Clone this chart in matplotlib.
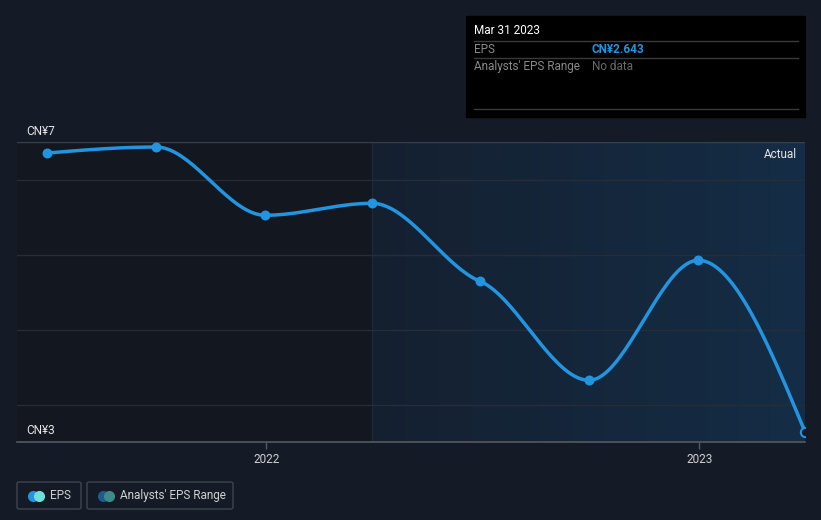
import numpy as np
import matplotlib
matplotlib.use("Agg")
import matplotlib.pyplot as plt
import matplotlib.dates as mdates
from matplotlib.patches import Rectangle, FancyBboxPatch
from matplotlib.colors import LinearSegmentedColormap
import datetime as dt

plt.rcParams['font.family'] = ['Roboto', 'DejaVu Sans']

# data
dates = ["2021-06-30", "2021-09-30", "2021-12-31", "2022-03-31",
         "2022-06-30", "2022-09-30", "2022-12-31", "2023-03-31"]
eps = [6.36, 6.44, 5.53, 5.69, 4.65, 3.33, 4.93, 2.643]
forecast_start = "2022-03-31"
y_ticks = [3, 4, 5, 6]
x_tick_dates = ["2022-01-01", "2023-01-01"]
x_tick_labels = ["2022", "2023"]

BG = "#151b26"
BLUE = "#2394df"


def monotone_curve(x, y, n=40):
    """monotone cubic (like d3 curveMonotoneX)"""
    x = np.asarray(x, float)
    y = np.asarray(y, float)
    h = np.diff(x)
    s = np.diff(y) / h
    m = np.zeros_like(y)
    for i in range(1, len(y) - 1):
        if s[i - 1] * s[i] <= 0:
            m[i] = 0
        else:
            p = (s[i - 1] * h[i] + s[i] * h[i - 1]) / (h[i - 1] + h[i])
            m[i] = np.sign(s[i - 1]) * min(abs(s[i - 1]), abs(s[i]), 0.5 * abs(p))
    m[0] = (3 * s[0] - m[1]) / 2
    m[-1] = (3 * s[-1] - m[-2]) / 2
    xs, ys = [], []
    for i in range(len(x) - 1):
        t = np.linspace(0, 1, n)
        h00 = 2 * t**3 - 3 * t**2 + 1
        h10 = t**3 - 2 * t**2 + t
        h01 = -2 * t**3 + 3 * t**2
        h11 = t**3 - t**2
        xs.append(x[i] + t * h[i])
        ys.append(h00 * y[i] + h10 * h[i] * m[i] + h01 * y[i + 1] + h11 * h[i] * m[i + 1])
    return np.concatenate(xs), np.concatenate(ys)


xd = mdates.date2num([dt.date.fromisoformat(d) for d in dates])
xf = mdates.date2num(dt.date.fromisoformat(forecast_start))
x_ticks = mdates.date2num([dt.date.fromisoformat(d) for d in x_tick_dates])

fig = plt.figure(figsize=(8.21, 5.2), dpi=100, facecolor=BG)
ax = fig.add_axes([17 / 821, 78 / 520, 788 / 821, 300 / 520])
ax.set_facecolor(BG)

ymin, ymax = 2.507, 6.507
xmin = xd[-1] - 788 / 1.1862
ax.set_xlim(xmin, xd[-1])
ax.set_ylim(ymin, ymax)

# past region / forecast region shading
ax.axvspan(xmin, xf, color="#13171f", zorder=0)
grad = np.linspace(0, 1, 256).reshape(1, -1)
cmap = LinearSegmentedColormap.from_list("fc", ["#152030", "#142d46"])
ax.imshow(grad, cmap=cmap, aspect="auto", extent=[xf, xd[-1], ymin, ymax], zorder=0)
ax.axvline(xf, color="#1c2a36", lw=1, zorder=1)

for t in y_ticks:
    ax.axhline(t, color="#262d38", lw=1, zorder=1)
ax.axhline(ymax, color="#3a4049", lw=1, zorder=1)

cx, cy = monotone_curve(xd, eps)
ax.plot(cx, cy, color=BLUE, lw=2.5, zorder=3, solid_capstyle="round")
ax.scatter(xd[:-1], eps[:-1], s=38, color=BLUE, zorder=4)
ax.scatter(xd[-1:], eps[-1:], s=45, facecolor=BG, edgecolor=BLUE, lw=1.5, zorder=5)

for sp in ["top", "right", "left"]:
    ax.spines[sp].set_visible(False)
ax.spines["bottom"].set_color("#55595f")
ax.spines["bottom"].set_linewidth(1.2)
ax.set_yticks([])
ax.set_xticks(x_ticks)
ax.set_xticklabels(x_tick_labels)
ax.tick_params(axis="x", colors="#55595f", length=5, width=1, labelcolor="#d0d0d0",
               labelsize=8.5, pad=3)

ax.text(0.012, 1.015, "CN¥7", transform=ax.transAxes, color="#e6e6e6", fontsize=8.5,
        va="bottom", ha="left")
ax.text(0.012, 0.017, "CN¥3", transform=ax.transAxes, color="#e6e6e6", fontsize=8.5,
        va="bottom", ha="left")
ax.text(0.99, 0.96, "Actual", transform=ax.transAxes, color="#e6e6e6", fontsize=8.5,
        va="center", ha="right")

# tooltip
W, H = 821, 520
fig.patches.append(Rectangle((466 / W, 1 - 117 / H), 339 / W, 101 / H,
                             transform=fig.transFigure, color="black", zorder=5))
for yy in [41, 58, 109]:
    fig.add_artist(plt.Line2D([474 / W, 798 / W], [1 - yy / H] * 2, color="#3a3a3a",
                              lw=1, transform=fig.transFigure, zorder=6))
fig.text(474 / W, 1 - 31 / H, "Mar 31 2023", color="white", fontsize=8.5,
         va="center", zorder=7)
fig.text(474 / W, 1 - 49.5 / H, "EPS", color="#8a8a8a", fontsize=8.5, va="center", zorder=7)
fig.text(592 / W, 1 - 49.5 / H, f"CN¥{eps[-1]:.3f}", color=BLUE, fontsize=8.5,
         fontweight="bold", va="center", zorder=7)
fig.text(474 / W, 1 - 66.5 / H, "Analysts' EPS Range", color="#8a8a8a", fontsize=8.5,
         va="center", zorder=7)
fig.text(592 / W, 1 - 66.5 / H, "No data", color="#6a6a6a", fontsize=8.5,
         va="center", zorder=7)


# legend
def legend_box(x0, x1, label, c1, c2):
    fig.patches.append(FancyBboxPatch((x0 / W, 1 - 509 / H), (x1 - x0) / W, 27 / H,
                                      boxstyle="round,pad=0,rounding_size=0.003",
                                      transform=fig.transFigure, facecolor="none",
                                      edgecolor="#3f4550", lw=1))
    fig.add_artist(plt.Line2D([(x0 + 16) / W], [1 - 495.5 / H], marker="o", ms=7,
                              color=c1, transform=fig.transFigure, lw=0))
    fig.add_artist(plt.Line2D([(x0 + 22) / W], [1 - 495.5 / H], marker="o", ms=7,
                              color=c2, transform=fig.transFigure, lw=0))
    fig.text((x0 + 33) / W, 1 - 495.5 / H, label, color="#d0d0d0", fontsize=8.5, va="center")


legend_box(17, 81, "EPS", "#2394df", "#6ee0d6")
legend_box(87, 233, "Analysts' EPS Range", "#1e5a8c", "#3e8a86")

fig.savefig("out.png", dpi=100, facecolor=BG)
